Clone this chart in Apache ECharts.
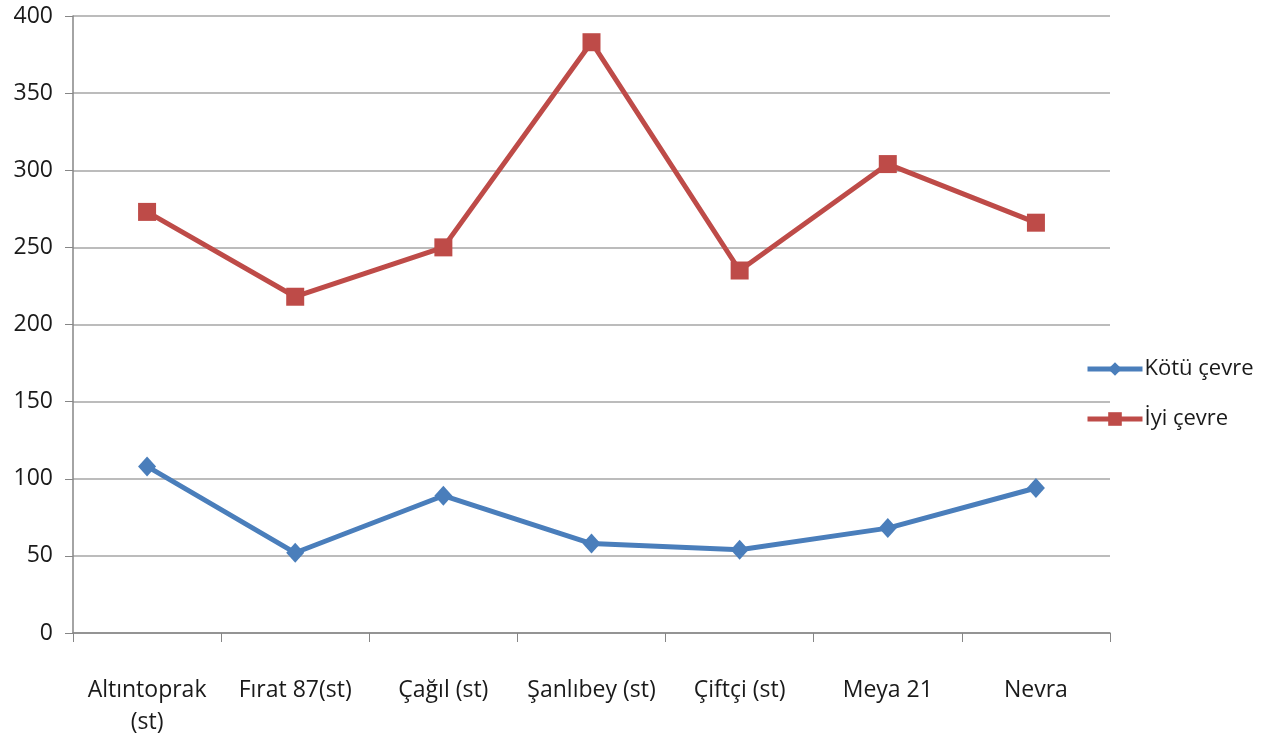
<!DOCTYPE html>
<html>
<head>
<meta charset="utf-8">
<script src="https://cdn.jsdelivr.net/npm/echarts@6/dist/echarts.min.js"></script>
<style>
  html, body { margin: 0; padding: 0; background: #fff; }
  #chart { width: 1281px; height: 738px; }
</style>
</head>
<body>
<div id="chart"></div>
<script>
const categories = ['Altıntoprak\n(st)', 'Fırat 87(st)', 'Çağıl (st)', 'Şanlıbey (st)', 'Çiftçi (st)', 'Meya 21', 'Nevra']
const kotuCevre = [108, 52, 89, 58, 54, 68, 94]
const iyiCevre = [273, 218, 250, 383, 235, 304, 266]
const seriesNames = ['Kötü çevre', 'İyi çevre']

const chart = echarts.init(document.getElementById('chart'))

const font = '"Open Sans", "DejaVu Sans", sans-serif'

chart.setOption({
  animation: false,
  textStyle: { fontFamily: font },
  grid: { left: 73, right: 171, top: 16, bottom: 103 },
  legend: {
    orient: 'vertical',
    left: 1080,
    top: 353,
    itemWidth: 55,
    itemHeight: 17,
    itemGap: 28,
    data: seriesNames,
    lineStyle: { width: 5 },
    textStyle: { fontSize: 22, color: '#1a1a1a', fontFamily: font, padding: [0, 0, 0, -3] }
  },
  xAxis: {
    type: 'category',
    data: categories,
    boundaryGap: true,
    axisLine: { lineStyle: { color: '#868686', width: 1.5 } },
    axisTick: { show: true, length: 9, lineStyle: { color: '#868686' } },
    axisLabel: { fontSize: 23, color: '#1a1a1a', margin: 41, lineHeight: 32, interval: 0 }
  },
  yAxis: {
    type: 'value',
    min: 0,
    max: 400,
    interval: 50,
    axisLine: { show: true, lineStyle: { color: '#868686', width: 1.5 } },
    axisTick: { show: true, length: 8, lineStyle: { color: '#868686' } },
    axisLabel: { fontSize: 23, color: '#1a1a1a', margin: 20 },
    splitLine: { lineStyle: { color: '#a6a6a6', width: 1.5 } }
  },
  series: [
    {
      name: seriesNames[0],
      type: 'line',
      data: kotuCevre,
      symbol: 'diamond',
      symbolSize: [18, 20],
      color: '#4a7ebb',
      lineStyle: { width: 5, color: '#4a7ebb' },
      itemStyle: { color: '#4a7ebb' }
    },
    {
      name: seriesNames[1],
      type: 'line',
      data: iyiCevre,
      symbol: 'rect',
      symbolSize: 18,
      color: '#be4b48',
      lineStyle: { width: 5, color: '#be4b48' },
      itemStyle: { color: '#be4b48' }
    }
  ]
})
</script>
</body>
</html>
